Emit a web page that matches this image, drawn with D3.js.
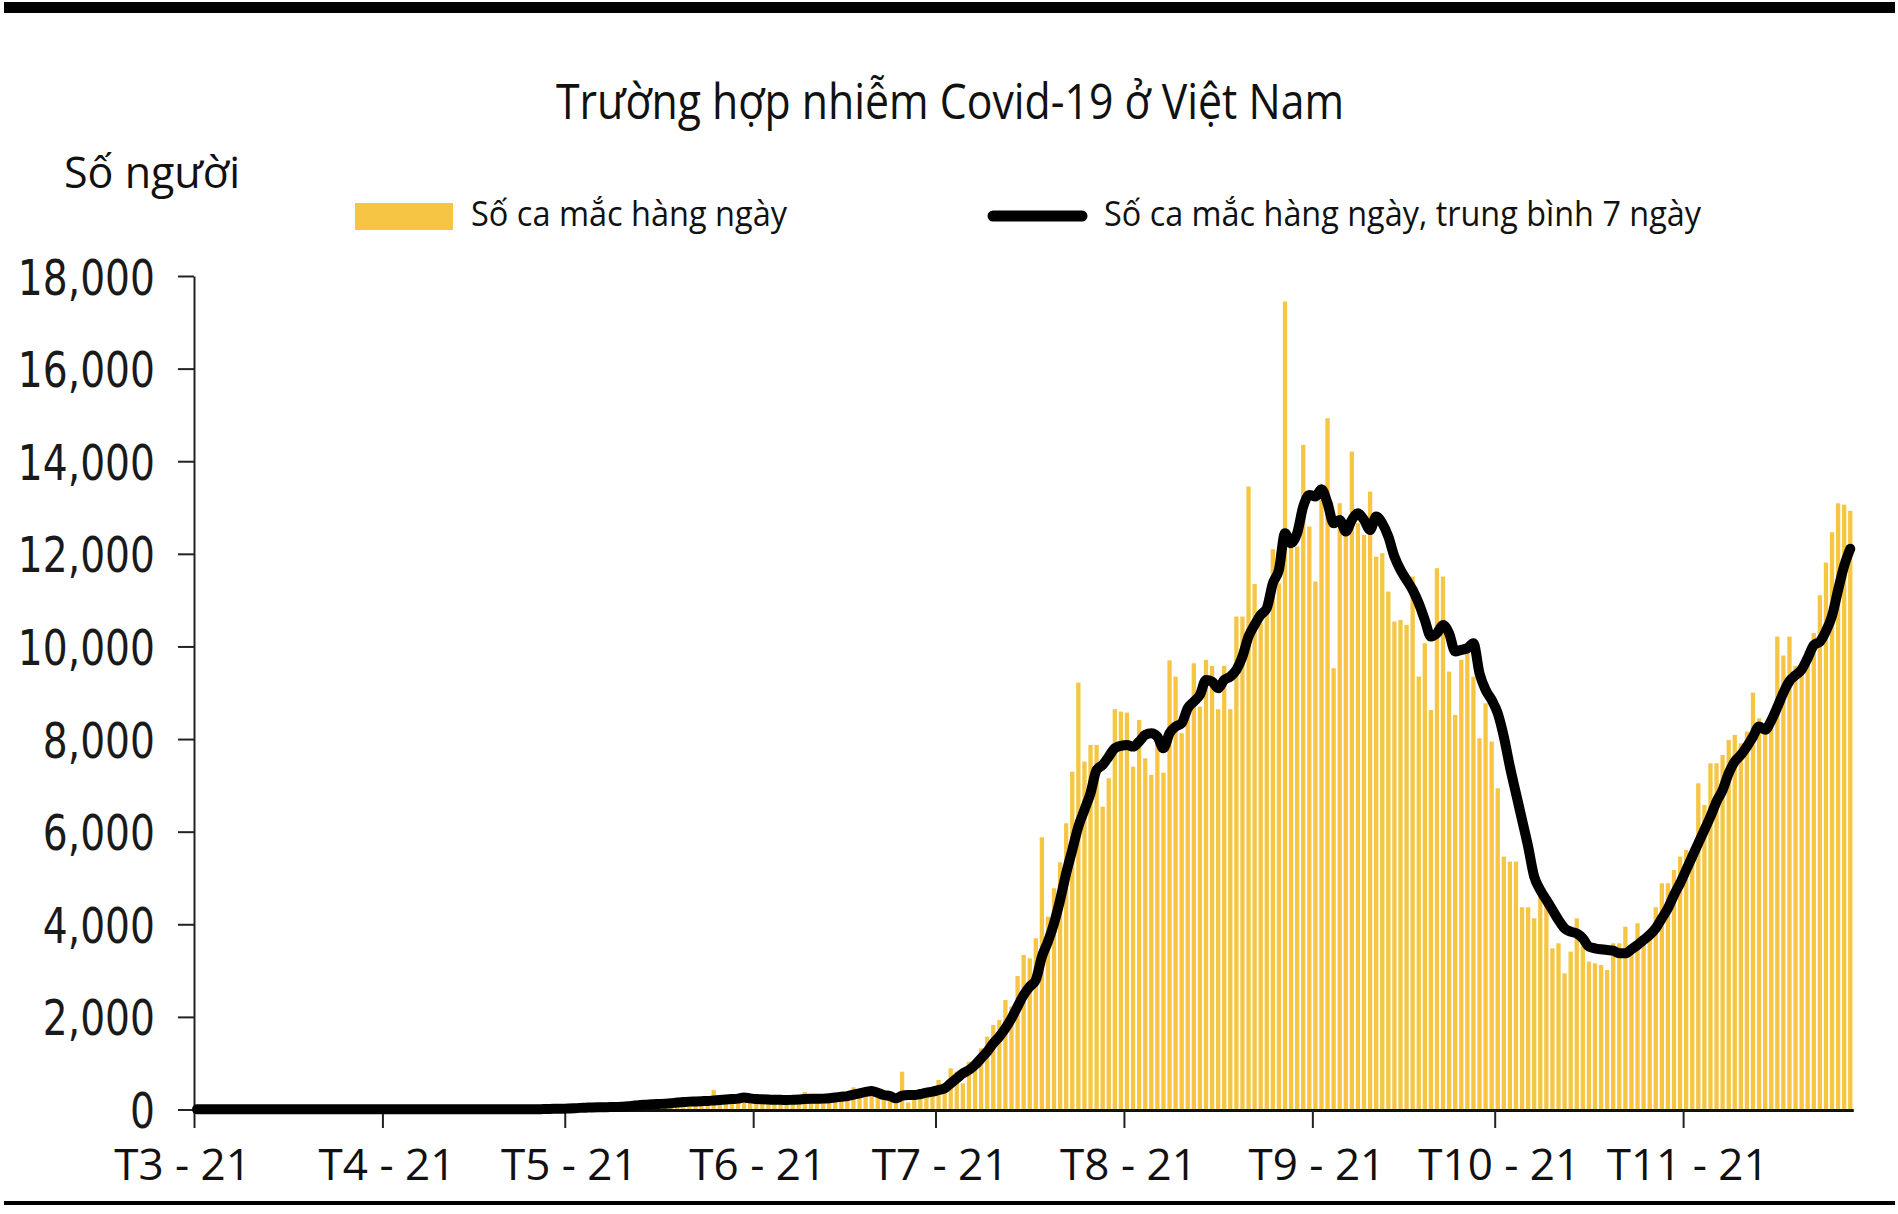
<!DOCTYPE html>
<html><head><meta charset="utf-8">
<script src="https://cdn.jsdelivr.net/npm/d3@7"></script>
<style>html,body{margin:0;padding:0;background:#fff;} svg{display:block;}</style>
</head><body>
<svg id="chart" width="1898" height="1214"></svg>
<script>
// ---------- DATA ----------
const startDate = "2021-03-01";
const titleText = "Trường hợp nhiễm Covid-19 ở Việt Nam";
const yAxisTitle = "Số người";
const legendLabels = ["Số ca mắc hàng ngày", "Số ca mắc hàng ngày, trung bình 7 ngày"];
const yTicks = [0, 2000, 4000, 6000, 8000, 10000, 12000, 14000, 16000, 18000];
const monthTicks = ["2021-03-01","2021-04-01","2021-05-01","2021-06-01","2021-07-01","2021-08-01","2021-09-01","2021-10-01","2021-11-01"];
const monthLabels = ["T3 - 21","T4 - 21","T5 - 21","T6 - 21","T7 - 21","T8 - 21","T9 - 21","T10 - 21","T11 - 21"];

// daily cases, 1 Mar 2021 .. 28 Nov 2021
const dailyCases = [
 2,4,0,3,6,5,2,4,1,3,2,8,3,0,4,2,5,3,1,6,4,2,3,5,8,4,2,3,6,4,2,
 3,2,1,5,4,2,3,1,4,6,3,2,5,1,3,4,2,6,3,5,2,4,3,7,8,6,
 10,15,12,20,25,30,45,50,40,55,60,65,70,90,110,120,100,130,140,120,150,170,160,180,190,170,200,220,
 420,150,200,250,300,350,180,150,230,200,250,180,160,220,250,380,200,180,230,300,260,280,330,480,350,400,450,300,
 280,250,200,817,150,250,300,350,400,637,400,889,817,565,1033,1000,1321,1573,1825,1933,2365,2221,2884,3337,3265,3697,5879,4165,4778,5339,6181,7297,9219,7513,7873,7873,6541,7153,8644,8593,8570,7405,8413,7585,7225,8050,7275,9700,9349,
 8126,8737,9637,8701,9709,9580,8644,9580,8644,10645,10645,13453,11351,10501,10789,12100,11365,17449,12229,12157,14353,12589,11401,13381,14929,9529,13093,12445,14209,12661,12409,13345,11941,12013,11185,10537,10573,10465,11509,9349,10069,8629,11690,11509,9457,8521,9709,10069,
 9349,8017,8773,7945,6937,5461,5353,5353,4367,4367,4129,4600,4450,3481,3589,2941,3409,4129,3661,3193,3157,3121,3013,3589,3589,3949,3517,4021,3589,3805,4367,4885,4885,5173,5461,5605,5605,7045,6577,7477,7477,7657,7981,8089,7909,8161,9003,8449,
 8167,8242,10213,9804,10213,9580,9506,9729,10288,11105,11813,12467,13092,13062,12928
];

// 7-day average as drawn, same days
const avg7 = [
 3,3,3,3,3,3,3,4,4,4,3,3,3,4,4,4,4,3,3,3,4,4,4,4,4,4,4,4,4,4,4,
 4,4,4,4,3,3,3,3,3,3,3,3,3,3,3,3,3,4,4,4,4,4,4,4,5,5,
 10,12,15,18,20,25,
 35,40,45,48,50,52,55,60,70,
 85,95,105,115,120,125,135,
 150,160,170,175,180,185,195,205,
 215,225,235,260,
 240,225,220,215,210,210,205,210,215,225,230,230,235,245,
 260,275,290,320,350,380,400,360,
 313,292,241,300,313,313,335,364,385,421,457,565,673,781,853,961,1105,1249,1429,1573,1753,1969,2221,2473,2653,2797,3301,3625,4021,4525,5101,5605,6109,6469,6829,7333,7441,7621,7801,7852,7873,7837,7945,8089,8125,8053,7801,8125,8269,
 8342,8666,8809,8953,9277,9241,9097,9277,9349,9493,9781,10213,10465,10681,10825,11365,11653,12445,12229,12445,13021,13273,13237,13396,13093,12661,12733,12481,12733,12877,12733,12517,12805,12661,12373,11941,11653,11437,11221,10933,10573,10213,10285,10465,10285,9889,9925,9961,
 10069,9421,9061,8845,8557,8053,7405,6829,6253,5677,5029,4741,4525,4309,4093,3913,3841,3805,3697,3517,3481,3460,3445,3431,3373,3373,3460,3553,3661,3769,3913,4129,4345,4633,4885,5173,5461,5749,6037,6325,6649,6901,7261,7513,7657,7837,8053,8269,
 8200,8400,8690,9000,9250,9380,9500,9750,10030,10100,10330,10660,11220,11740,12110
];

// ---------- DRAW ----------
const barColor = "#F6C544";
const svg = d3.select("#chart");
const parse = d3.utcParse("%Y-%m-%d");
const start = parse(startDate);
const dates = dailyCases.map((_, i) => d3.utcDay.offset(start, i));
const end = d3.utcDay.offset(start, dailyCases.length);

const x = d3.scaleUtc().domain([start, end]).range([194, 194 + 6.078 * dailyCases.length]);
const step = x(dates[1]) - x(dates[0]);
const y = d3.scaleLinear().domain([0, 18000]).range([1109.5, 276]);

const sansFont = "'Open Sans', 'Noto Sans', sans-serif";

// frame lines
svg.append("rect").attr("x", 4).attr("y", 2).attr("width", 1891).attr("height", 11).attr("fill", "#000");
svg.append("rect").attr("x", 4).attr("y", 1201).attr("width", 1891).attr("height", 4).attr("fill", "#000");

// title
svg.append("text").attr("x", 950).attr("y", 119).attr("text-anchor", "middle")
  .attr("font-family", sansFont).attr("font-size", 50)
  .attr("textLength", 788).attr("lengthAdjust", "spacingAndGlyphs")
  .attr("fill", "#111").text(titleText);

svg.append("text").attr("x", 64).attr("y", 188)
  .attr("font-family", sansFont).attr("font-size", 44)
  .attr("textLength", 176).attr("lengthAdjust", "spacingAndGlyphs")
  .attr("fill", "#111").text(yAxisTitle);

// legend
svg.append("rect").attr("x", 355).attr("y", 203).attr("width", 98).attr("height", 27).attr("fill", barColor);
svg.append("text").attr("x", 471).attr("y", 226)
  .attr("font-family", sansFont).attr("font-size", 35)
  .attr("textLength", 316).attr("lengthAdjust", "spacingAndGlyphs")
  .attr("fill", "#111").text(legendLabels[0]);
svg.append("line").attr("x1", 993).attr("x2", 1082).attr("y1", 216).attr("y2", 216)
  .attr("stroke", "#000").attr("stroke-width", 11).attr("stroke-linecap", "round");
svg.append("text").attr("x", 1104).attr("y", 226)
  .attr("font-family", sansFont).attr("font-size", 35)
  .attr("textLength", 597).attr("lengthAdjust", "spacingAndGlyphs")
  .attr("fill", "#111").text(legendLabels[1]);

// bars
const bw = 4.3;
svg.append("g").selectAll("rect").data(dailyCases).join("rect")
  .attr("x", (d, i) => x(dates[i]) + (step - bw) / 2)
  .attr("width", bw)
  .attr("y", d => y(d))
  .attr("height", d => y(0) - y(d))
  .attr("fill", barColor);

// y axis
const yAxis = d3.axisLeft(y).tickValues(yTicks).tickSize(16).tickSizeOuter(0).tickFormat(d3.format(","));
const gy = svg.append("g").attr("transform", "translate(194,0)").call(yAxis);
gy.attr("font-family", "'DejaVu Sans', Verdana, sans-serif").attr("font-size", 49);
gy.select(".domain").attr("stroke", "#222").attr("stroke-width", 2);
gy.selectAll(".tick line").attr("stroke", "#222").attr("stroke-width", 2);
gy.selectAll(".tick text").attr("dy", null).attr("x", -39).attr("y", 18)
  .attr("text-anchor", "end").attr("fill", "#1a1a1a")
  .each(function () {
    const w = this.getComputedTextLength();
    d3.select(this).attr("textLength", w * 0.8).attr("lengthAdjust", "spacingAndGlyphs");
  });

// x axis
const xAxis = d3.axisBottom(x).tickValues(monthTicks.map(parse)).tickSize(18).tickSizeOuter(0)
  .tickFormat((d, i) => monthLabels[i]);
const gx = svg.append("g").attr("transform", "translate(0,1110)").call(xAxis);
gx.attr("font-family", sansFont).attr("font-size", 44);
gx.select(".domain").attr("stroke", "#111").attr("stroke-width", 3);
gx.selectAll(".tick line").attr("stroke", "#222").attr("stroke-width", 2);
gx.selectAll(".tick text").attr("dy", null).attr("y", 70)
  .attr("x", (d, i) => i === 0 ? -12 : 4).attr("fill", "#111");

// 7-day average line
const line = d3.line()
  .x((d, i) => x(dates[i]) + step / 2)
  .y(d => y(d))
  .curve(d3.curveMonotoneX);
svg.append("path").datum(avg7).attr("d", line)
  .attr("fill", "none").attr("stroke", "#000").attr("stroke-width", 10)
  .attr("stroke-linejoin", "round").attr("stroke-linecap", "round");
</script>
</body></html>
